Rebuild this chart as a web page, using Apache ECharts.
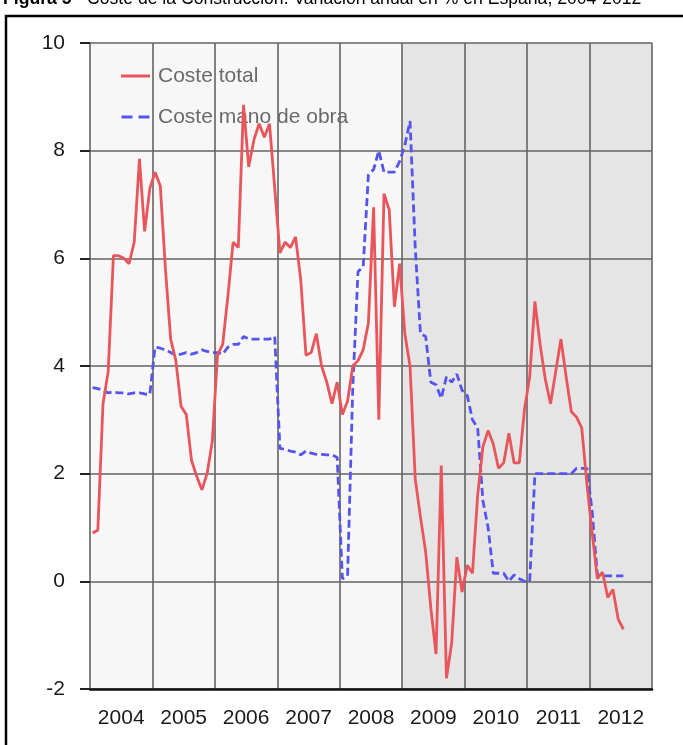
<!DOCTYPE html>
<html>
<head>
<meta charset="utf-8">
<script src="https://cdn.jsdelivr.net/npm/echarts@6/dist/echarts.min.js"></script>
<style>
html,body{margin:0;padding:0;background:#fff;}
#chart{width:683px;height:745px;}
</style>
</head>
<body>
<div id="chart"></div>
<script>
// Year tick labels (x axis bands)
const years = ['2004','2005','2006','2007','2008','2009','2010','2011','2012'];
// Y axis ticks
const yTicks = [-2, 0, 2, 4, 6, 8, 10];
// Series names
const seriesNames = ['Coste total', 'Coste mano de obra'];
// Monthly values from Jan 2004 (index 0) to Jul 2012
const costeTotal = [
  0.9, 0.95, 3.3, 3.9, 6.05, 6.05, 6.0, 5.9, 6.3, 7.85, 6.5, 7.3,
  7.6, 7.35, 5.8, 4.5, 4.1, 3.25, 3.1, 2.25, 1.95, 1.7, 2.0, 2.6,
  4.2, 4.4, 5.3, 6.3, 6.2, 8.85, 7.7, 8.2, 8.5, 8.25, 8.5, 7.3,
  6.1, 6.3, 6.2, 6.4, 5.6, 4.2, 4.25, 4.6, 4.0, 3.7, 3.3, 3.7,
  3.1, 3.35, 4.0, 4.1, 4.3, 4.8, 6.95, 3.0, 7.2, 6.9, 5.1, 5.9,
  4.6, 4.0, 1.9, 1.2, 0.55, -0.5, -1.35, 2.15, -1.8, -1.15, 0.45, -0.2,
  0.3, 0.15, 1.6, 2.5, 2.8, 2.55, 2.1, 2.2, 2.75, 2.2, 2.2, 3.2,
  3.8, 5.2, 4.4, 3.75, 3.3, 3.9, 4.5, 3.8, 3.15, 3.05, 2.85, 1.8,
  0.9, 0.05, 0.17, -0.3, -0.15, -0.7, -0.89
];
const costeManoObra = [
  3.6, 3.58, 3.55, 3.5, 3.52, 3.5, 3.5, 3.48, 3.5, 3.5, 3.48, 3.47,
  4.35, 4.33, 4.3, 4.25, 4.2, 4.22, 4.25, 4.22, 4.25, 4.3, 4.27, 4.25,
  4.25, 4.22, 4.35, 4.4, 4.4, 4.55, 4.5, 4.5, 4.5, 4.5, 4.5, 4.55,
  2.47, 2.45, 2.42, 2.4, 2.35, 2.42, 2.38, 2.36, 2.36, 2.35, 2.35, 2.3,
  0.05, 0.1, 3.6, 5.75, 5.85, 7.55, 7.65, 8.0, 7.6, 7.6, 7.6, 7.8,
  8.1, 8.55, 6.2, 4.6, 4.55, 3.7, 3.65, 3.4, 3.8, 3.7, 3.85, 3.55,
  3.45, 3.0, 2.85, 1.5, 1.0, 0.15, 0.15, 0.15, 0.0, 0.12, 0.05, 0.0,
  0.0, 2.0, 2.0, 2.0, 2.0, 2.0, 2.0, 2.0, 2.0, 2.1, 2.1, 2.1,
  1.3, 0.12, 0.1, 0.1, 0.1, 0.1, 0.1
];
// Background bands: [first year, last year]
const lightBand = ['2004', '2008'];
const shadedBand = ['2009', '2012'];

const MONTHS = 12;
const totalMonths = years.length * MONTHS;
const toPairs = arr => arr.map((v, i) => [i + 0.5, v]);
const bandRange = b => [years.indexOf(b[0]) * MONTHS, (years.indexOf(b[1]) + 1) * MONTHS];

const RED = '#e8555a';
const BLUE = '#5555ee';
const GRID = '#636363';
const FONT = 'Liberation Sans, Arial, sans-serif';
const chart = echarts.init(document.getElementById('chart'), null, {renderer: 'canvas'});
chart.setOption({
  backgroundColor: '#ffffff',
  animation: false,
  grid: {left: 90, right: 31, top: 43, bottom: 56},
  legend: {
    orient: 'vertical', left: 116, top: 59, itemGap: 17,
    itemWidth: 29, itemHeight: 3,
    textStyle: {fontFamily: FONT, fontSize: 21, color: '#6a6a6a', lineHeight: 24, padding: [0, 0, 0, 3]},
    data: [
      {name: seriesNames[0], icon: 'path://M0,0H29V3H0Z', itemStyle: {color: RED}},
      {name: seriesNames[1], icon: 'path://M0,0H11V3H0Z M17,0H28V3H17Z', itemStyle: {color: BLUE}}
    ]
  },
  graphic: [
    {type: 'rect', shape: {x: 6, y: 16, width: 720, height: 800}, style: {fill: 'none', stroke: '#000', lineWidth: 2.5}, silent: true},
    {type: 'text', left: 3, top: -10, silent: true,
      style: {
        text: '{b|Figura 5} - Coste de la Construcción. Variación anual en % en España, 2004-2012',
        font: '17.6px ' + FONT, fill: '#000',
        rich: {b: {fontWeight: 'bold', fontSize: 17.6, fontFamily: FONT, fill: '#000'}}
      }
    }
  ],
  xAxis: [
    {
      type: 'value', min: 0, max: totalMonths, interval: MONTHS, z: 1,
      axisLabel: {show: false}, axisTick: {show: false},
      axisLine: {show: true, onZero: false, lineStyle: {color: '#111', width: 2.5}},
      splitLine: {show: true, lineStyle: {color: GRID, width: 1.6}}
    },
    {
      type: 'category', data: years, position: 'bottom', boundaryGap: true, z: 1,
      axisLine: {show: false}, axisTick: {show: false}, splitLine: {show: false},
      axisLabel: {fontFamily: FONT, fontSize: 21, color: '#1a1a1a', margin: 19}
    }
  ],
  yAxis: {
    type: 'value', min: yTicks[0], max: yTicks[yTicks.length - 1], interval: 2, z: 1,
    axisLine: {show: false},
    axisTick: {show: true, length: 10, lineStyle: {color: '#222', width: 2}},
    axisLabel: {fontFamily: FONT, fontSize: 21, color: '#1a1a1a', margin: 25},
    splitLine: {show: true, lineStyle: {color: GRID, width: 1.6}}
  },
  series: [
    {
      type: 'custom', silent: true, z: 0, xAxisIndex: 0,
      data: [bandRange(lightBand).concat([0]), bandRange(shadedBand).concat([1])],
      renderItem: function (params, api) {
        const p1 = api.coord([api.value(0), yTicks[yTicks.length - 1]]);
        const p2 = api.coord([api.value(1), yTicks[0]]);
        return {type: 'rect', shape: {x: p1[0], y: p1[1], width: p2[0] - p1[0], height: p2[1] - p1[1]},
          style: {fill: api.value(2) ? '#e5e5e5' : '#f7f7f7'}};
      }
    },
    {
      name: seriesNames[0], type: 'line', xAxisIndex: 0, data: toPairs(costeTotal),
      showSymbol: false, symbol: 'none', z: 4,
      lineStyle: {color: RED, width: 2.8}, itemStyle: {color: RED}
    },
    {
      name: seriesNames[1], type: 'line', xAxisIndex: 0, data: toPairs(costeManoObra),
      showSymbol: false, symbol: 'none', z: 3,
      lineStyle: {color: BLUE, width: 2.8, type: [8, 4]}, itemStyle: {color: BLUE}
    }
  ]
});
</script>
</body>
</html>
